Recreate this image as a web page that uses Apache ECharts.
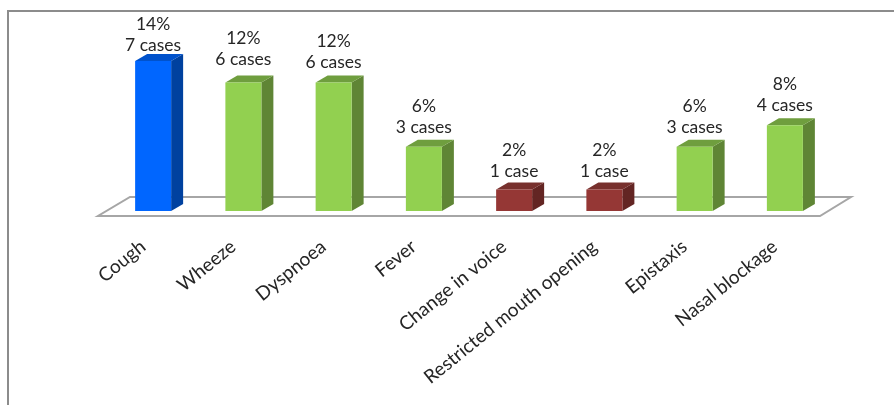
<!DOCTYPE html>
<html><head><meta charset="utf-8">
<style>html,body{margin:0;padding:0;background:#fff}#c{width:894px;height:405px}</style>
<script src="https://cdn.jsdelivr.net/npm/echarts@6/dist/echarts.min.js"></script>
</head><body><div id="c"></div>
<script>
const categories = ['Cough','Wheeze','Dyspnoea','Fever','Change in voice','Restricted mouth opening','Epistaxis','Nasal blockage'];
const cases = [7,6,6,3,1,1,3,4];
const percents = ['14%','12%','12%','6%','2%','2%','6%','8%'];
const caseLabels = ['7 cases','6 cases','6 cases','3 cases','1 case','1 case','3 cases','4 cases'];
const groups = ['top','mid','mid','mid','low','low','mid','mid'];

const palette = {
  top:{front:'#0066ff',side:'#00419f',cap:'#0052cc'},
  mid:{front:'#92d050',side:'#5f8535',cap:'#6f9e3e'},
  low:{front:'#953735',side:'#632523',cap:'#77302d'}
};
const barW = 36, dx = 12, dy = 7;
const FONT = 'Lato, "Open Sans", sans-serif';
const lift = [16,23,20,19,18,18,19,20];

const chart = echarts.init(document.getElementById('c'), null, {renderer:'canvas'});
chart.setOption({
  animation:false,
  backgroundColor:'#fff',
  graphic:[
    {type:'line',silent:true,shape:{x1:8,y1:10,x2:8,y2:405},style:{stroke:'#8c8c8c',lineWidth:2}},
    {type:'line',silent:true,shape:{x1:7,y1:11,x2:894,y2:11},style:{stroke:'#8c8c8c',lineWidth:2}}
  ],
  grid:{left:108,width:722,top:61,height:150,containLabel:false},
  xAxis:{type:'category',data:categories,
    axisLine:{show:false},axisTick:{show:false},splitLine:{show:false},
    axisLabel:{interval:0,rotate:39,margin:25,padding:[0,13,0,0],fontFamily:FONT,fontSize:19,color:'#262626'}},
  yAxis:{type:'value',min:0,max:7,interval:1,show:false},
  series:[
  {type:'custom',silent:true,z:1,data:[0],renderItem:function(p,api){
    const g=p.coordSys, L=g.x, R=g.x+g.width, B=g.y+g.height;
    const pts=[[L-10,B+5],[R-10,B+5],[R+21,B-14],[L+22,B-14]];
    return {type:'polygon',shape:{points:pts},style:{fill:'#fff',stroke:'#a6a6a6',lineWidth:2}};
  }},
  {type:'custom',silent:true,z:2,data:cases.map((v,i)=>[i,v]),renderItem:function(p,api){
    const i=api.value(0), top=api.coord([i,api.value(1)]), base=api.coord([i,0]);
    const x0=top[0]-barW/2, x1=x0+barW, y0=top[1], y1=base[1];
    const c=palette[groups[i]];
    const textStyle=(t,y)=>({type:'text',style:{text:t,x:top[0],y:y,align:'center',verticalAlign:'middle',font:'17.5px '+FONT,fill:'#262626'}});
    return {type:'group',children:[
      {type:'polygon',shape:{points:[[x1,y0],[x1+dx,y0-dy],[x1+dx,y1-dy],[x1,y1]]},style:{fill:c.side}},
      {type:'polygon',shape:{points:[[x0,y0],[x0+dx,y0-dy],[x1+dx,y0-dy],[x1,y0]]},style:{fill:c.cap}},
      {type:'rect',shape:{x:x0,y:y0,width:barW,height:y1-y0},style:{fill:c.front}},
      textStyle(percents[i],y0-lift[i]-21),
      textStyle(caseLabels[i],y0-lift[i])
    ]};
  }}]
});
</script></body></html>
